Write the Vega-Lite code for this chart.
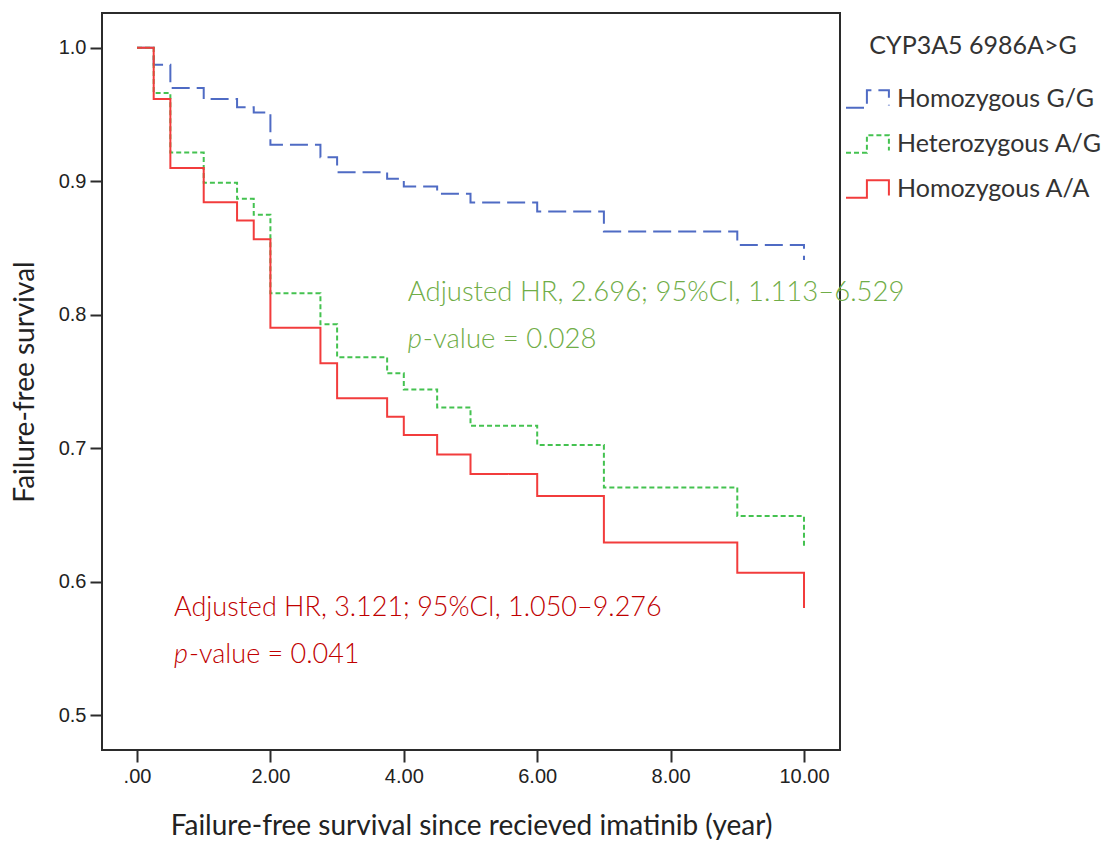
{
  "$schema": "https://vega.github.io/schema/vega-lite/v6.json",
  "width": 738,
  "height": 737,
  "autosize": {"type": "none"},
  "padding": {"left": 102, "top": 13, "right": 268, "bottom": 93},
  "background": "white",
  "config": {
    "view": {"stroke": "#2b2b2b", "strokeWidth": 2},
    "axis": {
      "domain": false,
      "grid": false,
      "tickColor": "#2b2b2b",
      "tickWidth": 2,
      "tickSize": 12,
      "labelPadding": 4,
      "labelFont": "Liberation Sans",
      "labelFontSize": 20,
      "labelColor": "#222222",
      "titleFont": "Lato",
      "titleFontSize": 28,
      "titleFontWeight": "normal",
      "titleColor": "#222222"
    }
  },
  "datasets": {
    "km": [
      {"group": "Homozygous G/G", "time": 0, "survival": 1.0},
      {"group": "Homozygous G/G", "time": 0.25, "survival": 0.9873},
      {"group": "Homozygous G/G", "time": 0.5, "survival": 0.9698},
      {"group": "Homozygous G/G", "time": 1.0, "survival": 0.9615},
      {"group": "Homozygous G/G", "time": 1.5, "survival": 0.9555},
      {"group": "Homozygous G/G", "time": 1.75, "survival": 0.9515},
      {"group": "Homozygous G/G", "time": 2.0, "survival": 0.9273},
      {"group": "Homozygous G/G", "time": 2.75, "survival": 0.918},
      {"group": "Homozygous G/G", "time": 3.0, "survival": 0.9068},
      {"group": "Homozygous G/G", "time": 3.75, "survival": 0.9018},
      {"group": "Homozygous G/G", "time": 4.0, "survival": 0.896},
      {"group": "Homozygous G/G", "time": 4.5, "survival": 0.8906},
      {"group": "Homozygous G/G", "time": 5.0, "survival": 0.884},
      {"group": "Homozygous G/G", "time": 6.0, "survival": 0.8773},
      {"group": "Homozygous G/G", "time": 7.0, "survival": 0.8623},
      {"group": "Homozygous G/G", "time": 9.0, "survival": 0.8523},
      {"group": "Homozygous G/G", "time": 10.0, "survival": 0.841},
      {"group": "Heterozygous A/G", "time": 0, "survival": 1.0},
      {"group": "Heterozygous A/G", "time": 0.25, "survival": 0.966},
      {"group": "Heterozygous A/G", "time": 0.5, "survival": 0.9215},
      {"group": "Heterozygous A/G", "time": 1.0, "survival": 0.8988},
      {"group": "Heterozygous A/G", "time": 1.5, "survival": 0.8868},
      {"group": "Heterozygous A/G", "time": 1.75, "survival": 0.8748},
      {"group": "Heterozygous A/G", "time": 2.0, "survival": 0.8161},
      {"group": "Heterozygous A/G", "time": 2.75, "survival": 0.7929},
      {"group": "Heterozygous A/G", "time": 3.0, "survival": 0.7681},
      {"group": "Heterozygous A/G", "time": 3.75, "survival": 0.7561},
      {"group": "Heterozygous A/G", "time": 4.0, "survival": 0.7441},
      {"group": "Heterozygous A/G", "time": 4.5, "survival": 0.7306},
      {"group": "Heterozygous A/G", "time": 5.0, "survival": 0.7169},
      {"group": "Heterozygous A/G", "time": 6.0, "survival": 0.7024},
      {"group": "Heterozygous A/G", "time": 7.0, "survival": 0.6707},
      {"group": "Heterozygous A/G", "time": 9.0, "survival": 0.6492},
      {"group": "Heterozygous A/G", "time": 10.0, "survival": 0.625},
      {"group": "Homozygous A/A", "time": 0, "survival": 1.0},
      {"group": "Homozygous A/A", "time": 0.25, "survival": 0.9615},
      {"group": "Homozygous A/A", "time": 0.5, "survival": 0.91},
      {"group": "Homozygous A/A", "time": 1.0, "survival": 0.8843},
      {"group": "Homozygous A/A", "time": 1.5, "survival": 0.8705},
      {"group": "Homozygous A/A", "time": 1.75, "survival": 0.8566},
      {"group": "Homozygous A/A", "time": 2.0, "survival": 0.7903},
      {"group": "Homozygous A/A", "time": 2.75, "survival": 0.7636},
      {"group": "Homozygous A/A", "time": 3.0, "survival": 0.7374},
      {"group": "Homozygous A/A", "time": 3.75, "survival": 0.7236},
      {"group": "Homozygous A/A", "time": 4.0, "survival": 0.7099},
      {"group": "Homozygous A/A", "time": 4.5, "survival": 0.6954},
      {"group": "Homozygous A/A", "time": 5.0, "survival": 0.6807},
      {"group": "Homozygous A/A", "time": 6.0, "survival": 0.6642},
      {"group": "Homozygous A/A", "time": 7.0, "survival": 0.6295},
      {"group": "Homozygous A/A", "time": 9.0, "survival": 0.6067},
      {"group": "Homozygous A/A", "time": 10.0, "survival": 0.5804}
    ]
  },
  "layer": [
    {
      "data": {"name": "km"},
      "mark": {"type": "line", "interpolate": "step-after", "strokeWidth": 2},
      "encoding": {
        "x": {
          "field": "time",
          "type": "quantitative",
          "scale": {"domain": [-0.525, 10.54], "nice": false, "zero": false},
          "axis": {
            "values": [0, 2, 4, 6, 8, 10],
            "labelExpr": "datum.value == 0 ? '.00' : format(datum.value, '.2f')",
            "title": "Failure-free survival since recieved imatinib (year)",
            "titlePadding": 26
          }
        },
        "y": {
          "field": "survival",
          "type": "quantitative",
          "scale": {"domain": [0.474, 1.026], "nice": false, "zero": false},
          "axis": {
            "values": [0.5, 0.6, 0.7, 0.8, 0.9, 1.0],
            "format": ".1f",
            "title": "Failure-free survival",
            "titlePadding": 19
          }
        },
        "color": {
          "field": "group",
          "type": "nominal",
          "scale": {
            "domain": ["Homozygous G/G", "Heterozygous A/G", "Homozygous A/A"],
            "range": ["#4f6bc4", "#44c250", "#f23c3c"]
          },
          "legend": {
            "title": "CYP3A5 6986A>G",
            "orient": "none",
            "legendX": 743,
            "legendY": 21,
            "padding": 0,
            "symbolType": "M-1,0.4L-0.05,0.4L-0.05,-0.4L0.95,-0.4L0.95,0.3",
            "symbolSize": 1936,
            "symbolStrokeWidth": 2,
            "symbolFillColor": "transparent",
            "labelFont": "Lato",
            "labelFontSize": 25,
            "labelColor": "#333333",
            "labelOffset": 6,
            "labelLimit": 0,
            "titleLimit": 0,
            "titleFont": "Lato",
            "titleFontSize": 25,
            "titleFontWeight": "normal",
            "titleColor": "#333333",
            "titleAnchor": "middle",
            "titlePadding": 17,
            "rowPadding": 9
          }
        },
        "strokeDash": {
          "field": "group",
          "type": "nominal",
          "scale": {
            "domain": ["Homozygous G/G", "Heterozygous A/G", "Homozygous A/A"],
            "range": [[18, 7], [5, 3], [1, 0]]
          }
        }
      }
    },
    {
      "data": {"values": [{"label": "Adjusted HR, 2.696; 95%CI, 1.113–6.529"}]},
      "mark": {"type": "text", "align": "left", "baseline": "alphabetic", "font": "Lato", "fontSize": 27.5, "fontWeight": 300, "color": "#70ad47"},
      "encoding": {"x": {"datum": 4.06}, "y": {"datum": 0.8103}, "text": {"field": "label"}}
    },
    {
      "data": {"values": [{"label": "p"}]},
      "mark": {"type": "text", "align": "left", "baseline": "alphabetic", "font": "Lato", "fontSize": 27.5, "fontWeight": 300, "fontStyle": "italic", "color": "#70ad47"},
      "encoding": {"x": {"datum": 4.06}, "y": {"datum": 0.7751}, "text": {"field": "label"}}
    },
    {
      "data": {"values": [{"label": "-value = 0.028"}]},
      "mark": {"type": "text", "align": "left", "baseline": "alphabetic", "dx": 15, "font": "Lato", "fontSize": 27.5, "fontWeight": 300, "color": "#70ad47"},
      "encoding": {"x": {"datum": 4.06}, "y": {"datum": 0.7751}, "text": {"field": "label"}}
    },
    {
      "data": {"values": [{"label": "Adjusted HR, 3.121; 95%CI, 1.050–9.276"}]},
      "mark": {"type": "text", "align": "left", "baseline": "alphabetic", "font": "Lato", "fontSize": 27, "fontWeight": 300, "color": "#c00000"},
      "encoding": {"x": {"datum": 0.555}, "y": {"datum": 0.5744}, "text": {"field": "label"}}
    },
    {
      "data": {"values": [{"label": "p"}]},
      "mark": {"type": "text", "align": "left", "baseline": "alphabetic", "font": "Lato", "fontSize": 27, "fontWeight": 300, "fontStyle": "italic", "color": "#c00000"},
      "encoding": {"x": {"datum": 0.555}, "y": {"datum": 0.5388}, "text": {"field": "label"}}
    },
    {
      "data": {"values": [{"label": "-value = 0.041"}]},
      "mark": {"type": "text", "align": "left", "baseline": "alphabetic", "dx": 15, "font": "Lato", "fontSize": 27, "fontWeight": 300, "color": "#c00000"},
      "encoding": {"x": {"datum": 0.555}, "y": {"datum": 0.5388}, "text": {"field": "label"}}
    }
  ]
}
